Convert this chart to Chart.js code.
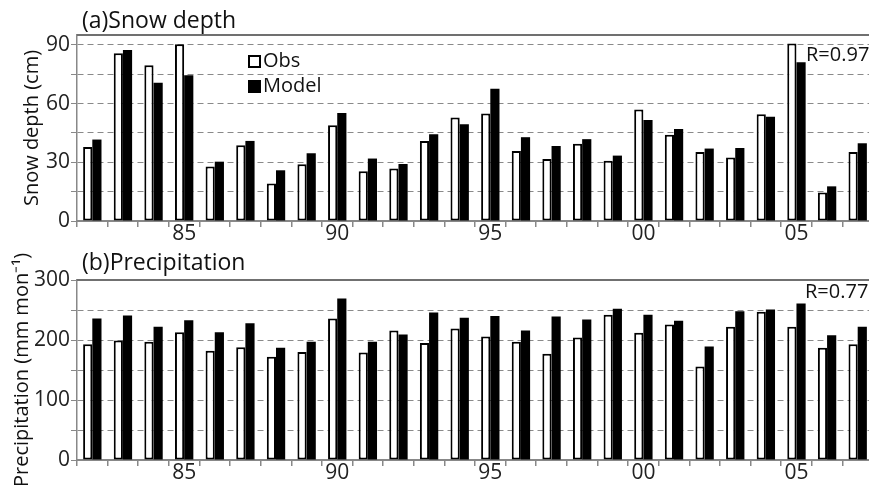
<!DOCTYPE html>
<html>
  <head>
    <meta charset="UTF-8" />
    <title>Snow depth and precipitation</title>
    <script src="https://cdn.jsdelivr.net/npm/chart.js"></script>
    <style>
      html, body { margin: 0; padding: 0; background: #fff; overflow: hidden; }
      body { width: 869px; height: 491px; position: relative; }
      .panel { position: absolute; left: 0; }
      #panelA { top: 0; }
      #panelB { top: 245px; }
    </style>
  </head>
  <body>
    <div class="panel" id="panelA"><canvas id="snowChart" width="875" height="245"></canvas></div>
    <div class="panel" id="panelB"><canvas id="precChart" width="875" height="246"></canvas></div>
    <script>
      // winters 1982-2007
      const years = ['1982','1983','1984','1985','1986','1987','1988','1989','1990','1991','1992','1993','1994',
                     '1995','1996','1997','1998','1999','2000','2001','2002','2003','2004','2005','2006','2007'];
      const labelledYears = ['1985','1990','1995','2000','2005'];

      // (a) snow depth, cm
      const snowObs   = [37.8, 85.7, 79.6, 90.3, 27.8, 38.7, 19.1, 29.0, 48.9, 25.4, 26.8, 40.9, 52.8,
                         54.9, 35.8, 31.7, 39.5, 30.8, 56.9, 44.0, 35.3, 32.4, 54.5, 90.6, 14.5, 35.3];
      const snowModel = [41.6, 87.4, 70.6, 74.5, 30.3, 40.9, 25.9, 34.6, 55.1, 31.9, 29.1, 44.3, 49.4,
                         67.5, 42.8, 38.3, 41.8, 33.4, 51.6, 47.0, 37.0, 37.3, 53.2, 81.1, 17.7, 39.7];
      const snowTicks = [0, 15, 30, 45, 60, 75, 90];
      const snowTickLabels = [0, 30, 60, 90];

      // (b) precipitation, mm mon-1
      const precObs   = [193, 199, 197, 213, 182, 188, 172, 180, 236, 179, 216, 195, 219,
                         206, 197, 177, 204, 242, 212, 226, 156, 222, 247, 222, 187, 193];
      const precModel = [236, 241, 222, 233, 213, 228, 187, 197, 269, 197, 209, 246, 237,
                         240, 216, 239, 234, 252, 242, 232, 189, 248, 251, 261, 208, 222];
      const precTicks = [0, 50, 100, 150, 200, 250, 300];
      const precTickLabels = [0, 100, 200, 300];

      Chart.defaults.font.family = "'Open Sans', sans-serif";
      Chart.defaults.color = '#222';

      // titles, R value, legend and the top frame line
      const decor = {
        id: 'decor',
        afterDraw(chart, args, opts) {
          const { ctx, chartArea } = chart;
          ctx.save();
          ctx.strokeStyle = '#707070';
          ctx.lineWidth = 2;
          ctx.beginPath();
          ctx.moveTo(chartArea.left, chartArea.top);
          ctx.lineTo(chartArea.right, chartArea.top);
          ctx.stroke();

          ctx.fillStyle = '#111';
          ctx.textBaseline = 'middle';
          ctx.textAlign = 'left';
          ctx.font = "23px 'Open Sans', sans-serif";
          ctx.fillText(opts.title, opts.titleX, opts.titleY);
          ctx.font = "20px 'Open Sans', sans-serif";
          ctx.fillText(opts.r, opts.rX, opts.rY);

          if (opts.legend) {
            chart.data.datasets.forEach((ds, i) => {
              const y = opts.legendY + i * 25;
              ctx.fillStyle = ds.backgroundColor;
              ctx.fillRect(opts.legendX, y - 6, 12, 12);
              ctx.strokeStyle = '#000';
              ctx.lineWidth = 2;
              ctx.strokeRect(opts.legendX + 1, y - 5, 11, 11);
              ctx.fillStyle = '#111';
              ctx.fillText(ds.label, opts.legendX + 15, y);
            });
          }
          ctx.restore();
        }
      };

      function makeChart(id, obs, model, yMax, ticks, tickLabels, yTitle, yTitlePad, xHeight, decorOpts) {
        return new Chart(document.getElementById(id), {
          type: 'bar',
          data: {
            labels: years,
            datasets: [
              { label: 'Obs', data: obs, backgroundColor: '#fff', borderColor: '#000',
                borderWidth: 2, borderSkipped: false },
              { label: 'Model', data: model, backgroundColor: '#000', borderColor: '#000', borderWidth: 0 }
            ]
          },
          options: {
            responsive: false,
            animation: false,
            layout: { padding: { top: 35, right: 2, left: 0, bottom: 0 } },
            datasets: { bar: { categoryPercentage: 0.6, barPercentage: 1.0 } },
            plugins: { legend: { display: false }, tooltip: { enabled: false }, decor: decorOpts },
            scales: {
              x: {
                offset: true,
                grid: { offset: true, drawOnChartArea: false, drawTicks: true, tickLength: 6,
                        color: '#888', tickColor: '#888', lineWidth: 1.5 },
                border: { color: '#888', width: 2 },
                ticks: {
                  autoSkip: false, maxRotation: 0, padding: -6,
                  font: { size: 21 }, color: '#222',
                  callback: (v, i) => labelledYears.includes(years[i]) ? years[i].slice(2) : ''
                },
                afterFit: s => { s.height = xHeight; }
              },
              y: {
                min: 0, max: yMax,
                afterBuildTicks: s => { s.ticks = ticks.map(v => ({ value: v })); },
                afterFit: s => { s.width = 77; },
                grid: { color: '#8a8a8a', lineWidth: 1, tickLength: 6, tickColor: '#888' },
                border: { color: '#888', width: 1.5, dash: [6, 4] },
                ticks: {
                  padding: 1, font: { size: 21 }, color: '#222',
                  callback: v => tickLabels.includes(v) ? v : ''
                },
                title: { display: true, text: yTitle, font: { size: 20 }, color: '#111',
                         padding: { top: yTitlePad, bottom: 0 } }
              }
            }
          },
          plugins: [decor]
        });
      }

      makeChart('snowChart', snowObs, snowModel, 95, snowTicks, snowTickLabels,
        'Snow depth (cm)', 20, 24,
        { title: '(a)Snow depth', titleX: 82, titleY: 21, r: 'R=0.97', rX: 806, rY: 55,
          legend: true, legendX: 248, legendY: 61 });

      makeChart('precChart', precObs, precModel, 300, precTicks, precTickLabels,
        'Precipitation (mm mon\u207B\u00B9)', 10, 31,
        { title: '(b)Precipitation', titleX: 82, titleY: 18, r: 'R=0.77', rX: 805, rY: 47,
          legend: false });
    </script>
  </body>
</html>
